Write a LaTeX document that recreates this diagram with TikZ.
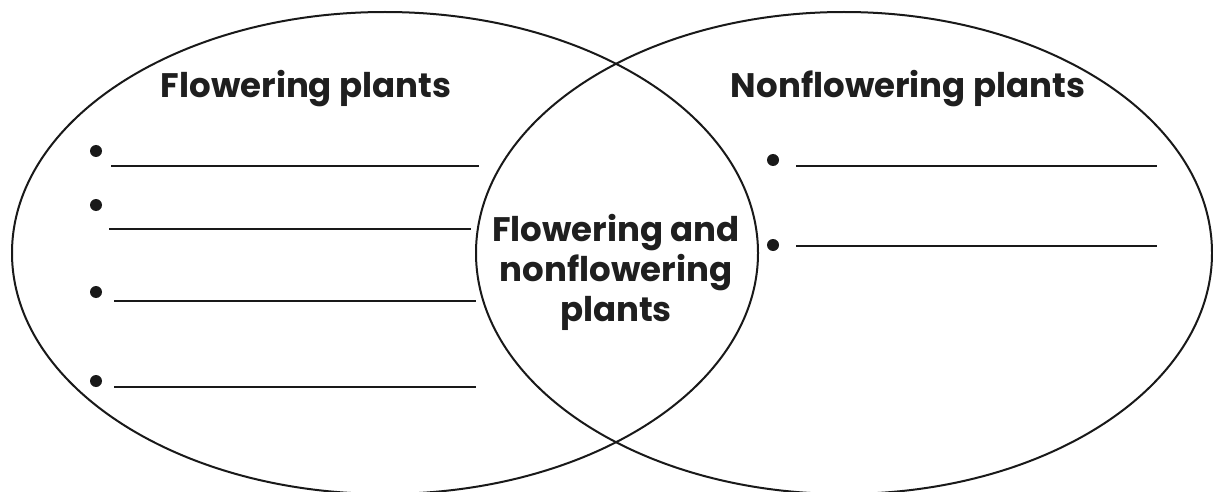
\documentclass[tikz,border=0pt]{standalone}
\usepackage{fontspec}
\newfontfamily\pop{Poppins}
\begin{document}
\begin{tikzpicture}[x=1pt,y=-1pt,
  ring/.style={draw=black!90,line width=2pt},
  blank/.style={draw=black!90,line width=2pt},
  dot/.style={circle,fill=black!90,inner sep=0pt,minimum size=12pt},
  head/.style={font=\pop\bfseries\fontsize{34}{40}\selectfont,text=black!88,inner sep=0pt,anchor=base},
  mid/.style={font=\pop\bfseries\fontsize{34}{40}\selectfont,text=black!88,inner sep=0pt,align=center}]
\useasboundingbox (0,0) rectangle (1213,492);
\fill[white] (0,0) rectangle (1213,492);
\draw[ring] (385,253) ellipse [x radius=373, y radius=241];
\draw[ring] (844,253) ellipse [x radius=368, y radius=241];
\node[head] (lt) at (306,98) {Flowering plants};
\node[head] (rt) at (908,98) {Nonflowering plants};
\node[mid] (ct) at (616,272) {Flowering and\\nonflowering\\plants};
% left bullets and lines
\node[dot] (b1) at (96,151) {};
\node[dot] (b2) at (96,205) {};
\node[dot] (b3) at (96,292) {};
\node[dot] (b4) at (96,381) {};
\draw[blank] (111,166) -- (479,166);
\draw[blank] (109,229) -- (471,229);
\draw[blank] (114,301) -- (476,301);
\draw[blank] (114,387) -- (476,387);
% right bullets and lines
\node[dot] (b5) at (773,160) {};
\node[dot] (b6) at (773,245) {};
\draw[blank] (796,166) -- (1157,166);
\draw[blank] (796,246) -- (1157,246);
\end{tikzpicture}
\end{document}
